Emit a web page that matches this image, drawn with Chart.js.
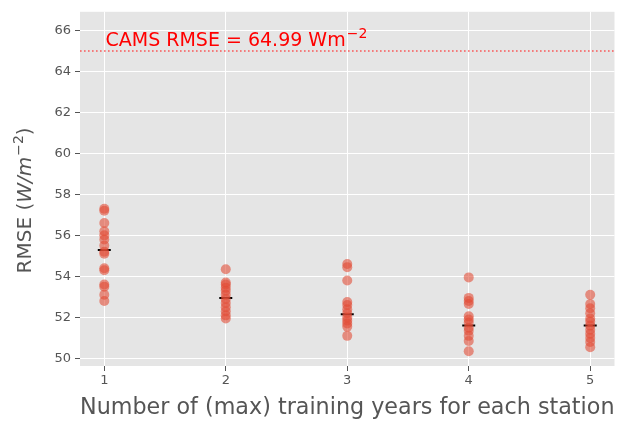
<!DOCTYPE html>
<html>
<head>
<meta charset="utf-8">
<script src="https://cdn.jsdelivr.net/npm/chart.js@4"></script>
<style>
  html, body { margin: 0; padding: 0; background: #fff; }
  #chartContainer { width: 623px; height: 422px; }
</style>
</head>
<body>
<div id="chartContainer"><canvas id="myChart" width="623" height="422"></canvas></div>
<script>
const yearsCount = [1, 2, 3, 4, 5];
const rmse1 = [52.8, 53.1, 53.5, 53.6, 54.3, 54.4, 55.1, 55.2, 55.5, 55.8, 56.0, 56.2, 56.6, 57.2, 57.3];
const rmse2 = [51.95, 52.1, 52.3, 52.5, 52.7, 52.9, 53.1, 53.3, 53.45, 53.6, 53.7, 54.35];
const rmse3 = [51.1, 51.55, 51.7, 51.85, 52.0, 52.2, 52.4, 52.6, 52.75, 53.8, 54.45, 54.6];
const rmse4 = [50.35, 50.85, 51.1, 51.35, 51.5, 51.75, 51.9, 52.05, 52.65, 52.8, 52.95, 53.95];
const rmse5 = [50.55, 50.8, 51.0, 51.2, 51.4, 51.6, 51.8, 51.95, 52.2, 52.45, 52.65, 53.1];
const meanRmse = [55.28, 52.95, 52.15, 51.6, 51.6];
const camsRmse = 64.99;
const yTicks = [50, 52, 54, 56, 58, 60, 62, 64, 66];
const xTicks = [1, 2, 3, 4, 5];

const allRuns = [rmse1, rmse2, rmse3, rmse4, rmse5];
const pointData = [];
allRuns.forEach((runs, i) => {
  runs.forEach((v) => pointData.push({ x: yearsCount[i], y: v }));
});
const meanData = meanRmse.map((v, i) => ({ x: yearsCount[i], y: v }));

const FONT = "'DejaVu Sans', sans-serif";

// draws grey panel, CAMS dotted line and text, y title with mathtext parts
const ggPlugin = {
  id: "ggPlugin",
  beforeDraw(chart) {
    const { ctx, chartArea: a } = chart;
    ctx.save();
    ctx.fillStyle = "#E5E5E5";
    ctx.fillRect(a.left, a.top, a.right - a.left, a.bottom - a.top);
    ctx.restore();
  },
  afterDatasetsDraw(chart) {
    const { ctx, chartArea: a, scales } = chart;
    const yPix = scales.y.getPixelForValue(camsRmse);
    ctx.save();
    ctx.strokeStyle = "rgba(255,40,40,0.75)";
    ctx.lineWidth = 1.6;
    ctx.setLineDash([1.6, 2.4]);
    ctx.beginPath();
    ctx.moveTo(a.left, yPix);
    ctx.lineTo(a.right, yPix);
    ctx.stroke();
    ctx.setLineDash([]);

    // annotation
    ctx.fillStyle = "#FF0000";
    ctx.textBaseline = "alphabetic";
    ctx.font = "19px " + FONT;
    const tx = scales.x.getPixelForValue(1.01);
    const ty = yPix - 5;
    const main = "CAMS RMSE = 64.99 Wm";
    ctx.fillText(main, tx, ty);
    const w = ctx.measureText(main).width;
    ctx.font = "14px " + FONT;
    ctx.fillText("\u22122", tx + w + 1, ty - 8);

    // y axis title
    ctx.fillStyle = "#555555";
    ctx.translate(31, (a.top + a.bottom) / 2 + 12);
    ctx.rotate(-Math.PI / 2);
    const parts = [
      { t: "RMSE (", f: "20px " + FONT, dy: 0 },
      { t: "W/m", f: "italic 20px " + FONT, dy: 0 },
      { t: "\u22122", f: "14px " + FONT, dy: -8 },
      { t: ")", f: "20px " + FONT, dy: 0 },
    ];
    let total = 0;
    parts.forEach((p) => { ctx.font = p.f; p.w = ctx.measureText(p.t).width; total += p.w; });
    let cx = -total / 2;
    parts.forEach((p) => {
      ctx.font = p.f;
      ctx.fillText(p.t, cx, p.dy);
      cx += p.w + (p.t === "W/m" ? 1 : 0);
    });
    ctx.restore();
  },
};

const chartCanvas = document.querySelector("#myChart");
new Chart(chartCanvas, {
  type: "scatter",
  data: {
    datasets: [
      {
        label: "runs",
        data: pointData,
        backgroundColor: "rgba(226,74,51,0.58)",
        borderWidth: 0,
        pointRadius: 5,
        pointHoverRadius: 5,
      },
      {
        label: "mean",
        data: meanData,
        pointStyle: "line",
        borderColor: "#000000",
        borderWidth: 2,
        pointRadius: 6.5,
        pointHoverRadius: 6.5,
      },
    ],
  },
  options: {
    responsive: false,
    animation: false,
    devicePixelRatio: 1,
    layout: { padding: { top: 8, right: 3, left: 0, bottom: 0 } },
    plugins: { legend: { display: false }, tooltip: { enabled: false } },
    scales: {
      x: {
        type: "linear",
        min: 0.8,
        max: 5.2,
        afterBuildTicks: (scale) => { scale.ticks = xTicks.map((v) => ({ value: v })); },
        afterFit: (scale) => { scale.height = 56; },
        grid: { color: "#FFFFFF", lineWidth: 1, tickColor: "#555555", tickLength: 5 },
        border: { display: false },
        ticks: { color: "#555555", font: { family: FONT, size: 13 }, padding: 2, maxRotation: 0 },
        title: {
          display: true,
          text: "Number of (max) training years for each station",
          color: "#555555",
          font: { family: FONT, size: 22.5 },
          padding: { top: 0, bottom: 0 },
        },
      },
      y: {
        type: "linear",
        min: 49.63,
        max: 66.9,
        afterBuildTicks: (scale) => { scale.ticks = yTicks.map((v) => ({ value: v })); },
        afterFit: (scale) => { scale.width = 80; },
        grid: { color: "#FFFFFF", lineWidth: 1, tickColor: "#555555", tickLength: 5 },
        border: { display: false },
        ticks: { color: "#555555", font: { family: FONT, size: 13 }, padding: 4 },
      },
    },
  },
  plugins: [ggPlugin],
});
</script>
</body>
</html>
